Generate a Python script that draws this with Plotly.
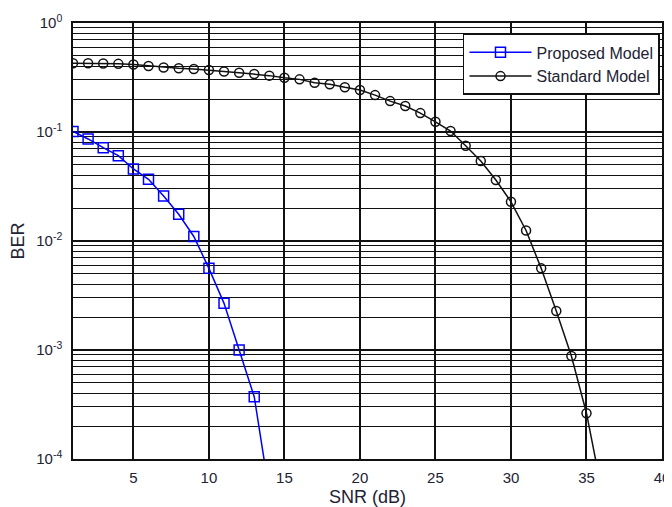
import plotly.graph_objects as go

snr_proposed = [1, 2, 3, 4, 5, 6, 7, 8, 9, 10, 11, 12, 13, 14]
ber_proposed = [0.101, 0.0863, 0.0718, 0.0606, 0.0458, 0.0368, 0.0259, 0.0176,
                0.0110, 0.00561, 0.00268, 0.00100, 0.000373, 0.000049]

snr_standard = list(range(1, 37))
ber_standard = [0.427, 0.427, 0.425, 0.422, 0.416, 0.403, 0.391, 0.384, 0.378,
                0.371, 0.359, 0.350, 0.340, 0.329, 0.315, 0.304, 0.283, 0.274,
                0.257, 0.243, 0.218, 0.192, 0.173, 0.149, 0.124, 0.102, 0.0749,
                0.0542, 0.0363, 0.0229, 0.0125, 0.00561, 0.00228, 0.000881,
                0.000263, 0.000052]

x_ticks = [5, 10, 15, 20, 25, 30, 35, 40]
y_major = [1e-4, 1e-3, 1e-2, 1e-1, 1e0]
y_major_text = ["10<sup>-4</sup>", "10<sup>-3</sup>", "10<sup>-2</sup>",
                "10<sup>-1</sup>", "10<sup>0</sup>"]
y_minor = [m * 10.0 ** e for e in range(-4, 0) for m in range(2, 10)]

fig = go.Figure()
fig.add_trace(go.Scatter(
    x=snr_proposed, y=ber_proposed, mode="lines+markers", name="Proposed Model",
    line=dict(color="#0000ff", width=1.5),
    marker=dict(symbol="square-open", size=10, color="#0000ff", line=dict(width=1.5)),
))
fig.add_trace(go.Scatter(
    x=snr_standard, y=ber_standard, mode="lines+markers", name="Standard Model",
    line=dict(color="#111111", width=1.5),
    marker=dict(symbol="circle-open", size=9, color="#111111", line=dict(width=1.5)),
))

font = dict(family="Liberation Sans, Arial, sans-serif", size=15, color="#222233")

# the page body adds an 8px offset, so the figure is sized 8px smaller
fig.update_layout(
    width=664, height=499,
    margin=dict(l=65, r=10, t=15, b=48),
    paper_bgcolor="white", plot_bgcolor="white",
    font=font,
    showlegend=True,
    legend=dict(x=0.9966, y=0.975, xanchor="right", yanchor="top",
                bgcolor="white", bordercolor="#111111", borderwidth=1.5,
                font=dict(family="Liberation Sans, Arial, sans-serif", size=16, color="#222233"),
                tracegroupgap=2, itemwidth=62),
    xaxis=dict(
        range=[1, 40], tickvals=x_ticks, ticks="", automargin=False,
        ticklabelstandoff=4,
        showgrid=True, gridcolor="#111111", gridwidth=1.5,
        showline=True, linecolor="#111111", linewidth=1.5, mirror=True,
        zeroline=False,
        title=dict(text="SNR (dB)", standoff=8),
    ),
    yaxis=dict(
        type="log", range=[-4, 0], tickvals=y_major, ticktext=y_major_text, ticks="",
        automargin=False, ticklabelstandoff=6,
        showgrid=True, gridcolor="#111111", gridwidth=1.5,
        minor=dict(tickvals=y_minor, showgrid=True, gridcolor="#111111", gridwidth=1.2, ticks=""),
        showline=True, linecolor="#111111", linewidth=1.5, mirror=True,
        zeroline=False,
        title=dict(text="BER", standoff=12),
    ),
)

fig.write_html("out.html")
